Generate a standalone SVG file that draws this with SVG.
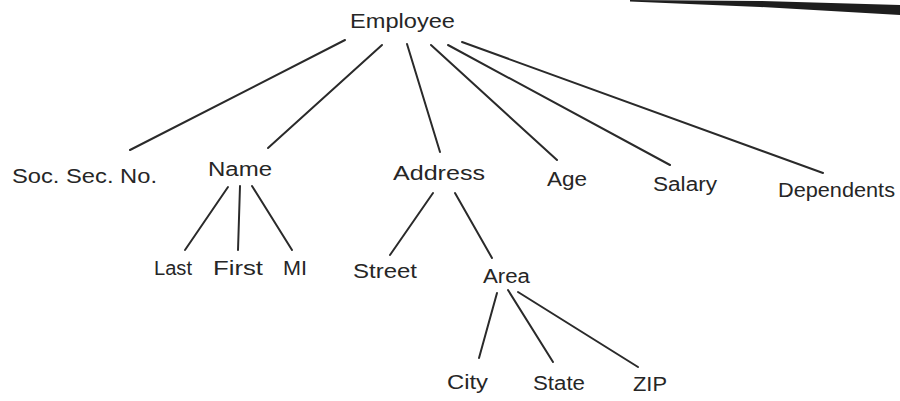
<svg xmlns="http://www.w3.org/2000/svg" width="900" height="401" viewBox="0 0 900 401">
<style>
text{font-family:"Liberation Sans",Arial,sans-serif;font-size:20px;fill:#262626;}
.c line{stroke:#2a2a2a;stroke-width:2;stroke-linecap:round;}
</style>
<rect width="900" height="401" fill="#fff"/>
<polygon points="630,0 760,1 900,5 900,15 760,7 630,1.5" fill="#1e1e1e"/>
<g class="c" id="connectors">
<line x1="345" y1="40" x2="130" y2="150"/>
<line x1="382" y1="45" x2="268" y2="148"/>
<line x1="407" y1="44" x2="440" y2="152"/>
<line x1="431" y1="45" x2="557" y2="160"/>
<line x1="448" y1="45" x2="670" y2="165"/>
<line x1="462" y1="42" x2="823" y2="173"/>
<line x1="228" y1="187" x2="185" y2="250"/>
<line x1="240" y1="186" x2="238" y2="250"/>
<line x1="252" y1="186" x2="292" y2="250"/>
<line x1="433" y1="193" x2="390" y2="255"/>
<line x1="455" y1="193" x2="492" y2="258"/>
<line x1="497" y1="293" x2="479" y2="358"/>
<line x1="508" y1="290" x2="553" y2="362"/>
<line x1="518" y1="292" x2="638" y2="367"/>
</g>
<g id="employee"><text x="350" y="28" textLength="105" lengthAdjust="spacingAndGlyphs">Employee</text></g>
<g id="ssn"><text x="12" y="183" textLength="145" lengthAdjust="spacingAndGlyphs">Soc. Sec. No.</text></g>
<g id="name"><text x="208" y="176" textLength="64" lengthAdjust="spacingAndGlyphs">Name</text></g>
<g id="address"><text x="393" y="180" textLength="92" lengthAdjust="spacingAndGlyphs">Address</text></g>
<g id="age"><text x="547" y="186" textLength="40" lengthAdjust="spacingAndGlyphs">Age</text></g>
<g id="salary"><text x="653" y="191" textLength="64" lengthAdjust="spacingAndGlyphs">Salary</text></g>
<g id="dependents"><text x="778" y="197" textLength="117" lengthAdjust="spacingAndGlyphs">Dependents</text></g>
<g id="last"><text x="154" y="275" textLength="38" lengthAdjust="spacingAndGlyphs">Last</text></g>
<g id="first"><text x="213" y="275" textLength="50" lengthAdjust="spacingAndGlyphs">First</text></g>
<g id="mi"><text x="283" y="275" textLength="24" lengthAdjust="spacingAndGlyphs">MI</text></g>
<g id="street"><text x="353" y="278" textLength="64" lengthAdjust="spacingAndGlyphs">Street</text></g>
<g id="area"><text x="483" y="283" textLength="47" lengthAdjust="spacingAndGlyphs">Area</text></g>
<g id="city"><text x="447" y="389" textLength="41" lengthAdjust="spacingAndGlyphs">City</text></g>
<g id="state"><text x="533" y="390" textLength="52" lengthAdjust="spacingAndGlyphs">State</text></g>
<g id="zip"><text x="633" y="391" textLength="34" lengthAdjust="spacingAndGlyphs">ZIP</text></g>
</svg>
